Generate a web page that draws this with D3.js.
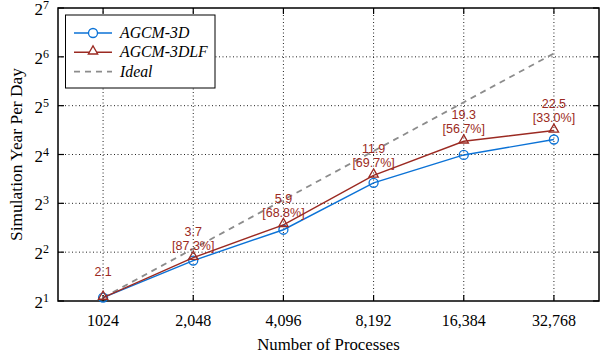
<!DOCTYPE html>
<html>
<head>
<meta charset="utf-8">
<script src="https://cdn.jsdelivr.net/npm/d3@7"></script>
<style>
  body { margin: 0; background: #fff; }
  svg { display: block; }
</style>
</head>
<body>
<div id="chart"></div>
<script>
const procs = ['1024', '2,048', '4,096', '8,192', '16,384', '32,768'];
const agcm3d = [2.1, 3.55, 5.5, 10.7, 15.9, 19.8];
const agcm3dlf = [2.1, 3.7, 5.9, 11.9, 19.3, 22.5];
const ideal = [2.1, 4.2, 8.4, 16.8, 33.6, 67.2];
const speedLabels = ['2.1', '3.7', '5.9', '11.9', '19.3', '22.5'];
const effLabels = ['', '[87.3%]', '[68.8%]', '[69.7%]', '[56.7%]', '[33.0%]'];
const yExps = [1, 2, 3, 4, 5, 6, 7];

const W = 603, H = 360;
const m = { left: 58, right: 4, top: 8, bottom: 59 };
const blue = '#0b72d6', red = '#9b2a22', gray = '#8c8c8c';
const serif = 'Liberation Serif, Times New Roman, serif';

const svg = d3.select('#chart').append('svg')
    .attr('width', W)
    .attr('height', H);

const x = d3.scalePoint()
    .domain(procs)
    .range([m.left, W - m.right])
    .padding(0.5);

const y = d3.scaleLog()
    .base(2)
    .domain([2, 128])
    .range([H - m.bottom, m.top]);

// grid
const grid = svg.append('g');
grid.selectAll('.gy')
    .data(yExps.slice(1, -1))
    .enter().append('line')
    .attr('x1', m.left).attr('x2', W - m.right)
    .attr('y1', d => y(2 ** d)).attr('y2', d => y(2 ** d))
    .attr('stroke', '#222').attr('stroke-width', 1)
    .attr('stroke-dasharray', '1,2.5');
grid.selectAll('.gx')
    .data(procs)
    .enter().append('line')
    .attr('x1', d => x(d)).attr('x2', d => x(d))
    .attr('y1', m.top).attr('y2', H - m.bottom)
    .attr('stroke', '#222').attr('stroke-width', 1)
    .attr('stroke-dasharray', '1,2.5');

// ticks (inward, all four sides)
const ticks = svg.append('g').attr('stroke', '#000').attr('stroke-width', 1.2);
procs.forEach(p => {
    ticks.append('line').attr('x1', x(p)).attr('x2', x(p)).attr('y1', H - m.bottom).attr('y2', H - m.bottom - 6);
    ticks.append('line').attr('x1', x(p)).attr('x2', x(p)).attr('y1', m.top).attr('y2', m.top + 6);
});
yExps.forEach(e => {
    ticks.append('line').attr('x1', m.left).attr('x2', m.left + 6).attr('y1', y(2 ** e)).attr('y2', y(2 ** e));
    ticks.append('line').attr('x1', W - m.right).attr('x2', W - m.right - 6).attr('y1', y(2 ** e)).attr('y2', y(2 ** e));
});

// frame
svg.append('rect')
    .attr('x', m.left).attr('y', m.top)
    .attr('width', W - m.left - m.right)
    .attr('height', H - m.top - m.bottom)
    .attr('fill', 'none').attr('stroke', '#000').attr('stroke-width', 1.5);

// x tick labels
svg.append('g').selectAll('text')
    .data(procs)
    .enter().append('text')
    .attr('x', d => x(d))
    .attr('y', H - m.bottom + 25)
    .attr('text-anchor', 'middle')
    .attr('font-family', serif)
    .attr('font-size', 16)
    .text(d => d);

// y tick labels 2^n
const yl = svg.append('g').selectAll('text')
    .data(yExps)
    .enter().append('text')
    .attr('x', m.left - 9)
    .attr('y', d => y(2 ** d) + 7)
    .attr('text-anchor', 'end')
    .attr('font-family', serif)
    .attr('font-size', 17);
yl.append('tspan').text('2');
yl.append('tspan').attr('dy', -6).attr('font-size', 12).text(d => d);

// axis titles
svg.append('text')
    .attr('x', (m.left + W - m.right) / 2)
    .attr('y', H - 10)
    .attr('text-anchor', 'middle')
    .attr('font-family', serif)
    .attr('font-size', 16.8)
    .text('Number of Processes');
svg.append('text')
    .attr('transform', `translate(22,${(m.top + H - m.bottom) / 2}) rotate(-90)`)
    .attr('text-anchor', 'middle')
    .attr('font-family', serif)
    .attr('font-size', 17.4)
    .text('Simulation Year Per Day');

const line = d3.line()
    .x((d, i) => x(procs[i]))
    .y(d => y(d));

// ideal
svg.append('path')
    .datum(ideal)
    .attr('d', line)
    .attr('fill', 'none')
    .attr('stroke', gray)
    .attr('stroke-width', 1.8)
    .attr('stroke-dasharray', '6,5');

// AGCM-3D
svg.append('path')
    .datum(agcm3d)
    .attr('d', line)
    .attr('fill', 'none')
    .attr('stroke', blue)
    .attr('stroke-width', 1.4);
svg.append('g').selectAll('circle')
    .data(agcm3d)
    .enter().append('circle')
    .attr('cx', (d, i) => x(procs[i]))
    .attr('cy', d => y(d))
    .attr('r', 4.5)
    .attr('fill', 'none')
    .attr('stroke', blue)
    .attr('stroke-width', 1.3);

// AGCM-3DLF
const tri = d3.symbol().type(d3.symbolTriangle).size(38);
svg.append('path')
    .datum(agcm3dlf)
    .attr('d', line)
    .attr('fill', 'none')
    .attr('stroke', red)
    .attr('stroke-width', 1.4);
svg.append('g').selectAll('path')
    .data(agcm3dlf)
    .enter().append('path')
    .attr('d', tri)
    .attr('transform', (d, i) => `translate(${x(procs[i])},${y(d) - 1})`)
    .attr('fill', 'none')
    .attr('stroke', red)
    .attr('stroke-width', 1.3);

// data labels
const lbl = svg.append('g')
    .attr('font-family', 'Liberation Sans, Arial, sans-serif')
    .attr('font-size', 12.5)
    .attr('fill', red)
    .attr('text-anchor', 'middle');
agcm3dlf.forEach((v, i) => {
    const px = x(procs[i]), py = y(v);
    lbl.append('text').attr('x', px).attr('y', py - 22).text(speedLabels[i]);
    if (effLabels[i]) lbl.append('text').attr('x', px).attr('y', py - 8).text(effLabels[i]);
});

// legend
const lg = svg.append('g');
lg.append('rect')
    .attr('x', 65.5).attr('y', 15)
    .attr('width', 149.5).attr('height', 73)
    .attr('fill', '#fff').attr('stroke', '#000').attr('stroke-width', 1);
const legendItems = [
    { name: 'AGCM-3D', color: blue, mark: 'circle' },
    { name: 'AGCM-3DLF', color: red, mark: 'tri' },
    { name: 'Ideal', color: gray, mark: null }
];
legendItems.forEach((it, i) => {
    const ly = 33 + i * 19.3;
    lg.append('line')
        .attr('x1', 74).attr('x2', 112).attr('y1', ly).attr('y2', ly)
        .attr('stroke', it.color)
        .attr('stroke-width', it.mark ? 1.4 : 1.8)
        .attr('stroke-dasharray', it.mark ? null : '6,5');
    if (it.mark === 'circle') {
        lg.append('circle').attr('cx', 93).attr('cy', ly).attr('r', 4.5)
            .attr('fill', '#fff').attr('stroke', it.color).attr('stroke-width', 1.3);
    } else if (it.mark === 'tri') {
        lg.append('path').attr('d', tri).attr('transform', `translate(93,${ly - 1})`)
            .attr('fill', '#fff').attr('stroke', it.color).attr('stroke-width', 1.3);
    }
    lg.append('text')
        .attr('x', 120).attr('y', ly + 5)
        .attr('font-family', serif)
        .attr('font-style', 'italic')
        .attr('font-size', 15.8)
        .text(it.name);
});
</script>
</body>
</html>
